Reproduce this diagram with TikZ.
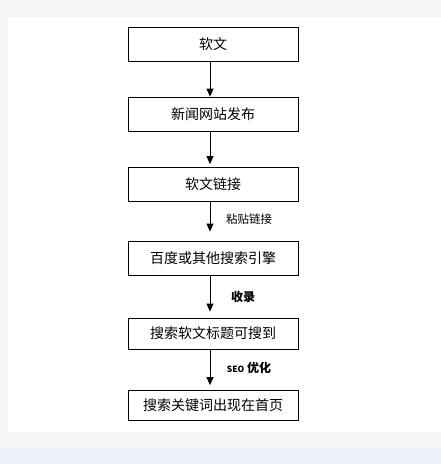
\documentclass[tikz,border=0pt]{standalone}
\usepackage{fontspec}
\setmainfont{Noto Sans CJK SC}
\usetikzlibrary{arrows.meta}
\definecolor{pagegray}{HTML}{F6F6F7}
\definecolor{bandblue}{HTML}{EDF1F9}
\tikzset{
  stepbox/.style={draw, thick, minimum width=170pt, minimum height=34pt, inner sep=0pt, font=\fontsize{14pt}{16pt}\selectfont},
  flow/.style={thick, -{Triangle[width=7pt,length=8pt]}},
  tag/.style={font=\fontsize{11.5pt}{13pt}\selectfont, anchor=center}
}
\begin{document}
\begin{tikzpicture}[x=1pt,y=-1pt]
% page background
\fill[pagegray] (0,0) rectangle (441,464);
\fill[white] (8,16.5) rectangle (441,432);
\fill[bandblue] (0,447) rectangle (441,464);
\useasboundingbox (0,0) rectangle (441,464);
% boxes
\node[stepbox] (soft) at (213,44) {软文};
\node[stepbox] (news) at (213,114) {新闻网站发布};
\node[stepbox] (link) at (213,184.5) {软文链接};
\node[stepbox] (engine) at (213,258) {百度或其他搜索引擎};
\node[stepbox, minimum height=31pt] (found) at (213,333.5) {搜索软文标题可搜到};
\node[stepbox, minimum height=30pt] (home) at (213,405.5) {搜索关键词出现在首页};
% arrows
\draw[flow] ([xshift=-3pt]soft.south) -- ([xshift=-3pt]news.north);
\draw[flow, shorten >=3pt] ([xshift=-3pt]news.south) -- ([xshift=-3pt]link.north);
\draw[flow, shorten >=9pt] ([xshift=-3pt]link.south) -- ([xshift=-3pt]engine.north);
\draw[flow, shorten >=6pt] ([xshift=-3pt]engine.south) -- ([xshift=-3pt]found.north);
\draw[flow, shorten >=5pt] ([xshift=-3pt]found.south) -- ([xshift=-3pt]home.north);
% labels
\node[tag] (paste) at (249,219) {粘贴链接};
\node[tag, font=\fontsize{12pt}{14pt}\bfseries] (index) at (243,297) {收录};
\node[tag, font=\fontsize{12pt}{14pt}\bfseries] (seo) at (249,368) {{\fontsize{8.5pt}{10pt}\selectfont SEO} 优化};
\end{tikzpicture}
\end{document}
